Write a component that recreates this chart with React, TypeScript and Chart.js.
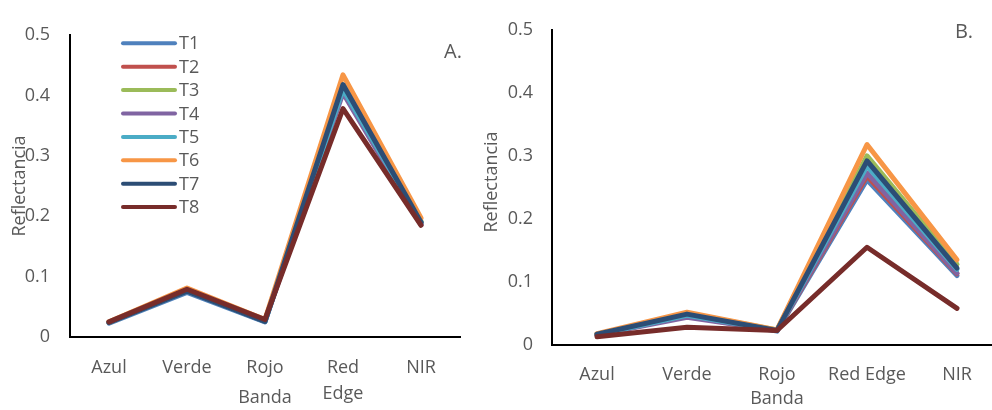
import React, { useEffect, useRef } from "react";
import { Chart, registerables } from "chart.js";

Chart.register(...registerables);

const seriesNames = ["T1", "T2", "T3", "T4", "T5", "T6", "T7", "T8"];
const seriesColors = ["#4F81BD", "#C0504D", "#9BBB59", "#8064A2", "#4BACC6", "#F79646", "#2C4D75", "#772C2A"];

const categoriesA = [["Azul"], ["Verde"], ["Rojo"], ["Red", "Edge"], ["NIR"]];
const categoriesB = ["Azul", "Verde", "Rojo", "Red Edge", "NIR"];
const yTicks = [0, 0.1, 0.2, 0.3, 0.4, 0.5];

// Chart A values per series: Azul, Verde, Rojo, Red Edge, NIR
const a_T1 = [0.023, 0.074, 0.025, 0.415, 0.188];
const a_T2 = [0.024, 0.078, 0.028, 0.41, 0.19];
const a_T3 = [0.024, 0.077, 0.027, 0.415, 0.192];
const a_T4 = [0.024, 0.076, 0.026, 0.404, 0.186];
const a_T5 = [0.024, 0.076, 0.026, 0.41, 0.19];
const a_T6 = [0.025, 0.081, 0.029, 0.434, 0.197];
const a_T7 = [0.024, 0.076, 0.026, 0.418, 0.19];
const a_T8 = [0.025, 0.079, 0.029, 0.378, 0.185];

// Chart B values
const b_T1 = [0.016, 0.046, 0.022, 0.262, 0.11];
const b_T2 = [0.016, 0.047, 0.023, 0.268, 0.113];
const b_T3 = [0.017, 0.05, 0.024, 0.3, 0.128];
const b_T4 = [0.016, 0.044, 0.023, 0.273, 0.114];
const b_T5 = [0.016, 0.047, 0.023, 0.284, 0.12];
const b_T6 = [0.018, 0.052, 0.024, 0.318, 0.135];
const b_T7 = [0.017, 0.049, 0.023, 0.292, 0.122];
const b_T8 = [0.013, 0.028, 0.023, 0.155, 0.058];

const seriesA = [a_T1, a_T2, a_T3, a_T4, a_T5, a_T6, a_T7, a_T8];
const seriesB = [b_T1, b_T2, b_T3, b_T4, b_T5, b_T6, b_T7, b_T8];

const FONT = "'Open Sans', sans-serif";
const TEXT = "#595959";

function makeDatasets(series: number[][]) {
  return series.map((d, i) => ({
    label: seriesNames[i],
    data: d,
    borderColor: seriesColors[i],
    backgroundColor: seriesColors[i],
    borderWidth: 5,
    pointRadius: 0,
    tension: 0,
    borderJoinStyle: "round" as const,
    borderCapStyle: "round" as const,
    order: seriesNames.length - i,
  }));
}

function textPlugin(cfg: {
  yTitle: [number, number];
  xTitle: [number, number];
  mark: string;
  markPos: [number, number];
  legend: boolean;
}) {
  return {
    id: "texts",
    afterDraw(chart: any) {
      const ctx = chart.ctx;
      ctx.save();
      ctx.fillStyle = TEXT;
      ctx.font = `18px ${FONT}`;
      ctx.textAlign = "center";
      ctx.textBaseline = "middle";
      ctx.fillText("Banda", cfg.xTitle[0], cfg.xTitle[1]);
      ctx.save();
      ctx.translate(cfg.yTitle[0], cfg.yTitle[1]);
      ctx.rotate(-Math.PI / 2);
      ctx.fillText("Reflectancia", 0, 0);
      ctx.restore();
      ctx.font = `20px ${FONT}`;
      ctx.fillText(cfg.mark, cfg.markPos[0], cfg.markPos[1]);
      if (cfg.legend) {
        chart.data.datasets.forEach((ds: any, i: number) => {
          const y = 43.3 + i * 23.4;
          ctx.beginPath();
          ctx.strokeStyle = ds.borderColor;
          ctx.lineWidth = 4;
          ctx.lineCap = "round";
          ctx.moveTo(123, y);
          ctx.lineTo(175, y);
          ctx.stroke();
          ctx.fillStyle = TEXT;
          ctx.font = `18px ${FONT}`;
          ctx.textAlign = "left";
          ctx.fillText(ds.label, 179, y + 1);
        });
      }
      ctx.restore();
    },
  };
}

function makeOptions(yWidth: number, xHeight: number, padding: any, yPad: number, xPad: number) {
  return {
    responsive: false,
    animation: false as const,
    layout: { padding },
    plugins: { legend: { display: false }, tooltip: { enabled: false } },
    scales: {
      x: {
        offset: true,
        grid: { display: false, drawTicks: false },
        border: { display: true, color: "#000", width: 2 },
        ticks: {
          color: TEXT,
          font: { family: FONT, size: 18, lineHeight: 1.44 },
          padding: xPad,
          maxRotation: 0,
          autoSkip: false,
        },
        afterFit: (s: any) => {
          s.height = xHeight;
        },
      },
      y: {
        min: 0,
        max: 0.5,
        afterBuildTicks: (s: any) => {
          s.ticks = yTicks.map((v) => ({ value: v }));
        },
        grid: { display: false, drawTicks: false },
        border: { display: true, color: "#000", width: 2 },
        ticks: {
          color: TEXT,
          font: { family: FONT, size: 18 },
          padding: yPad,
          callback: (v: any) => String(Number(Number(v).toFixed(1))),
        },
        afterFit: (s: any) => {
          s.width = yWidth;
        },
      },
    },
  };
}

export default function App() {
  const refA = useRef<HTMLCanvasElement>(null);
  const refB = useRef<HTMLCanvasElement>(null);

  useEffect(() => {
    const chartA = new Chart(refA.current!, {
      type: "line",
      data: { labels: categoriesA as any, datasets: makeDatasets(seriesA) },
      options: makeOptions(70, 73, { left: 0, top: 35, right: 20, bottom: 0 }, 20, 18) as any,
      plugins: [textPlugin({ yTitle: [20, 186], xTitle: [265, 398], mark: "A.", markPos: [453, 52], legend: true })],
    });
    const chartB = new Chart(refB.current!, {
      type: "line",
      data: { labels: categoriesB, datasets: makeDatasets(seriesB) },
      options: makeOptions(72, 65, { left: 0, top: 17, right: 8, bottom: 0 }, 19, 17) as any,
      plugins: [textPlugin({ yTitle: [12, 182], xTitle: [297, 399], mark: "B.", markPos: [484, 32], legend: false })],
    });
    return () => {
      chartA.destroy();
      chartB.destroy();
    };
  }, []);

  return (
    <div style={{ position: "absolute", left: 0, top: 0, width: 992, height: 410, overflow: "hidden", background: "#fff" }}>
      <canvas ref={refA} width={480} height={410} style={{ position: "absolute", left: 0, top: 0, width: 480, height: 410 }} />
      <canvas ref={refB} width={530} height={410} style={{ position: "absolute", left: 480, top: 0, width: 530, height: 410 }} />
    </div>
  );
}
